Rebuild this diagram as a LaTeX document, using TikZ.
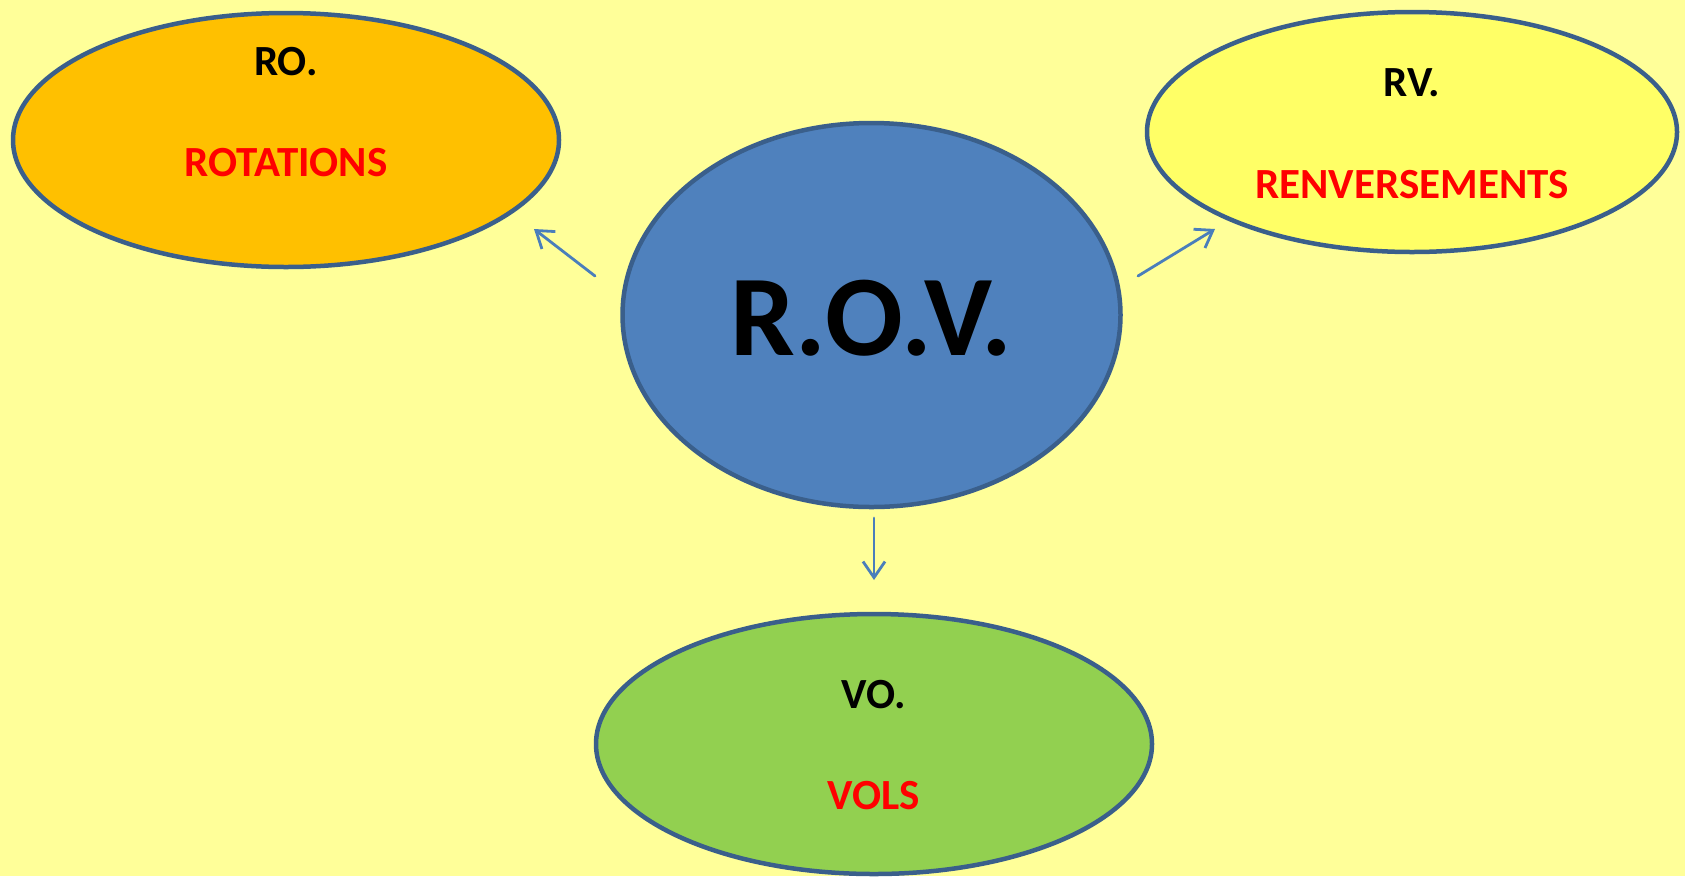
\documentclass[tikz,border=0pt]{standalone}
\usepackage{fontspec}
\setmainfont{Carlito}
\usetikzlibrary{shapes.geometric,arrows.meta}
\definecolor{fond}{HTML}{FFFF99}
\definecolor{bord}{HTML}{3A5F8B}
\definecolor{orange}{HTML}{FFC000}
\definecolor{bleu}{HTML}{4F81BD}
\definecolor{jaune}{HTML}{FFFF66}
\definecolor{vert}{HTML}{92D050}
\definecolor{fleche}{HTML}{4A7EBB}
\tikzset{
  bulle/.style={ellipse,draw=bord,line width=4.5pt,inner sep=0pt},
  titre/.style={font=\fontsize{43}{43}\selectfont\bfseries,text=black},
  mot/.style={font=\fontsize{43}{43}\selectfont\bfseries,text=red},
  fl/.style={draw=fleche,line width=2.8pt,-{Straight Barb[length=16pt,width=22pt,line width=2.8pt]}}
}
\begin{document}
\begin{tikzpicture}[line cap=round,line join=round,x=1pt,y=-1pt]
		\fill[fond] (0,0) rectangle (1685,876);
		\useasboundingbox (0,0) rectangle (1685,876);
		% bulles
		\node[bulle,fill=orange,minimum width=546pt,minimum height=254pt] (ro) at (286,140) {};
		\node[bulle,fill=bleu,minimum width=498pt,minimum height=384pt] (rov) at (871.5,315) {};
		\node[bulle,fill=jaune,minimum width=530pt,minimum height=240pt] (rv) at (1412,132) {};
		\node[bulle,fill=vert,minimum width=556pt,minimum height=260pt] (vo) at (874,744) {};
		% textes
		\node[font=\fontsize{115}{115}\selectfont\bfseries] (rovtxt) at (871.5,318) {R.O.V.};
		\node[titre] (rotxt) at (286,62) {RO.};
		\node[mot] (romot) at (286,163) {ROTATIONS};
		\node[titre] (rvtxt) at (1412,83) {RV.};
		\node[mot] (rvmot) at (1412,185) {RENVERSEMENTS};
		\node[titre] (votxt) at (874,695) {VO.};
		\node[mot] (vomot) at (874,796) {VOLS};
		% fleches
		\coordinate (ro-a) at (595,276);
		\coordinate (ro-b) at (534,229);
		\coordinate (rv-a) at (1138,276);
		\coordinate (rv-b) at (1215,229);
		\coordinate (vo-a) at (874,518);
		\coordinate (vo-b) at (874,580);
		\draw[fl] (ro-a) -- (ro-b);
		\draw[fl] (rv-a) -- (rv-b);
		\draw[fl] (vo-a) -- (vo-b);
\end{tikzpicture}
\end{document}
